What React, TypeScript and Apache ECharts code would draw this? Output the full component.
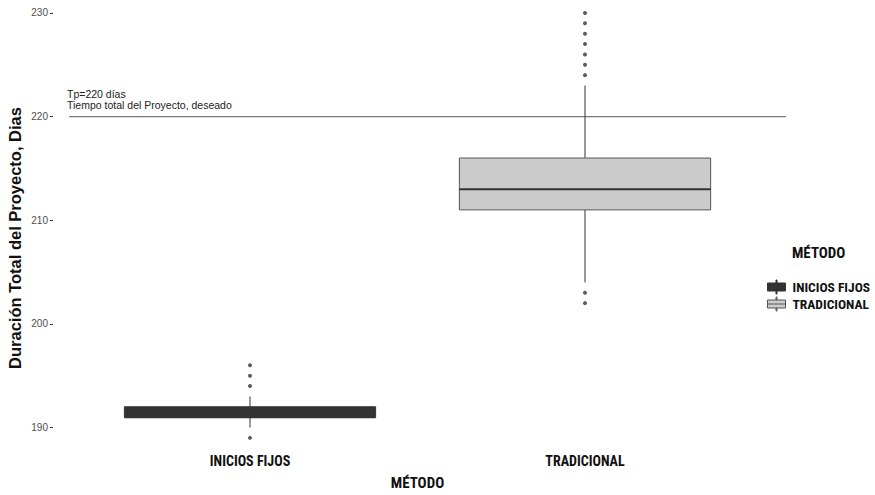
import React, { useEffect, useRef } from "react";
import * as echarts from "echarts";

const categories = ["INICIOS FIJOS", "TRADICIONAL"];
const whiskerLow = [190, 204];
const q1 = [191, 211];
const median = [191, 213];
const q3 = [192, 216];
const whiskerHigh = [193, 223];
const outliersFijos = [189, 194, 195, 196];
const outliersTradicional = [202, 203, 224, 225, 226, 227, 228, 229, 230];
const yTicks = [190, 200, 210, 220, 230];
const targetDays = 220;
const targetSpan = [0.46, 2.6];

const boxColors = [
  { fill: "#333333", border: "#333333" },
  { fill: "#cccccc", border: "#555555" },
];

const NARROW = "'Liberation Sans Narrow', 'Arial Narrow', 'Roboto Condensed', 'DejaVu Sans Condensed', sans-serif";
const SANS = "'Liberation Sans', Arial, sans-serif";

const legendIcon =
  "path://M0,3 L18,3 L18,11 L0,11 Z M8.5,0 L9.5,0 L9.5,3 L8.5,3 Z M8.5,11 L9.5,11 L9.5,14 L8.5,14 Z M0,7 L18,7";

function renderBox(params: any, api: any) {
  const x = api.value(0);
  const lo = api.coord([x, api.value(1)]);
  const b1 = api.coord([x, api.value(2)]);
  const md = api.coord([x, api.value(3)]);
  const b3 = api.coord([x, api.value(4)]);
  const hi = api.coord([x, api.value(5)]);
  const half = api.size([0.75, 0])[0] / 2;
  const idx = api.value(6);
  const c = boxColors[idx];
  return {
    type: "group",
    children: [
      { type: "line", shape: { x1: lo[0], y1: lo[1], x2: b1[0], y2: b1[1] }, style: { stroke: "#333333", lineWidth: 1 } },
      { type: "line", shape: { x1: hi[0], y1: hi[1], x2: b3[0], y2: b3[1] }, style: { stroke: "#333333", lineWidth: 1 } },
      {
        type: "rect",
        shape: { x: b1[0] - half, y: b3[1], width: half * 2, height: b1[1] - b3[1] },
        style: { fill: c.fill, stroke: c.border, lineWidth: 1 },
      },
      { type: "line", shape: { x1: md[0] - half, y1: md[1], x2: md[0] + half, y2: md[1] }, style: { stroke: "#333333", lineWidth: 2 } },
    ],
  };
}

export default function App() {
  const ref = useRef<HTMLDivElement>(null);
  useEffect(() => {
    if (!ref.current) return;
    const chart = echarts.init(ref.current, null, { renderer: "svg" });
    const boxSeries = categories.map((name, i) => ({
      name,
      type: "custom",
      xAxisIndex: 0,
      yAxisIndex: 0,
      renderItem: renderBox,
      itemStyle: { color: boxColors[i].fill, borderColor: boxColors[i].border },
      encode: { x: 0, y: [1, 2, 3, 4, 5] },
      data: [[i + 1, whiskerLow[i], q1[i], median[i], q3[i], whiskerHigh[i], i]],
      z: 3,
    }));
    chart.setOption({
      animation: false,
      backgroundColor: "#ffffff",
      grid: { left: 49, top: 0, width: 737, height: 459.8, containLabel: false },
      xAxis: {
        type: "value",
        min: 0.4,
        max: 2.6,
        axisLine: { show: false },
        axisTick: { show: false },
        splitLine: { show: false },
        axisLabel: {
          customValues: [1, 2],
          formatter: (v: number) => categories[Math.round(v) - 1] || "",
          color: "#111111",
          fontFamily: NARROW,
          fontWeight: "bold",
          fontSize: 14,
          margin: -2,
        },
        name: "MÉTODO",
        nameLocation: "middle",
        nameGap: 19,
        nameTextStyle: { color: "#111111", fontFamily: NARROW, fontWeight: "bold", fontSize: 15 },
      },
      yAxis: {
        type: "value",
        min: 187.25,
        max: 231.25,
        offset: -4,
        axisLine: { show: false },
        splitLine: { show: false },
        axisTick: { show: true, customValues: yTicks, length: 3, lineStyle: { color: "#333333" } },
        axisLabel: {
          customValues: yTicks,
          color: "#4d4d4d",
          fontFamily: SANS,
          fontSize: 10,
          margin: 5,
        },
      },
      legend: {
        data: categories.map((name, i) => ({
          name,
          icon: legendIcon,
          itemStyle: { color: boxColors[i].fill, borderColor: boxColors[i].border, borderWidth: 1 },
        })),
        orient: "vertical",
        left: 762,
        top: 274.5,
        itemWidth: 18,
        itemHeight: 14,
        itemGap: 2,
        selectedMode: false,
        textStyle: { color: "#111111", fontFamily: NARROW, fontWeight: "bold", fontSize: 13.5, padding: [0, 0, 0, 2] },
      },
      title: {
        text: "MÉTODO",
        left: 787,
        top: 240,
        textStyle: { color: "#111111", fontFamily: NARROW, fontWeight: "bold", fontSize: 15 },
      },
      graphic: [
        {
          type: "text",
          left: 67,
          top: 88,
          style: {
            text: "Tp=220 días\nTiempo total del Proyecto, deseado",
            fill: "#222222",
            font: `10.5px ${SANS}`,
            lineHeight: 11,
          },
        },
        {
          type: "text",
          x: 15,
          y: 238,
          rotation: Math.PI / 2,
          style: {
            text: "Duración Total del Proyecto, Dias",
            fill: "#111111",
            font: `bold 16.5px ${SANS}`,
            align: "center",
            verticalAlign: "middle",
          },
        },
      ],
      series: [
        {
          name: "Tp",
          type: "line",
          data: [
            [targetSpan[0], targetDays],
            [targetSpan[1], targetDays],
          ],
          symbol: "none",
          lineStyle: { color: "#7a7a7a", width: 1.3 },
          clip: false,
          z: 2,
        },
        ...boxSeries,
        {
          name: "outliers1",
          type: "scatter",
          data: outliersFijos.map((v) => [1, v]),
          symbolSize: 4,
          itemStyle: { color: "#333333" },
          z: 4,
        },
        {
          name: "outliers2",
          type: "scatter",
          data: outliersTradicional.map((v) => [2, v]),
          symbolSize: 4,
          itemStyle: { color: "#333333" },
          z: 4,
        },
      ],
    });
    return () => chart.dispose();
  }, []);
  return <div ref={ref} style={{ position: "absolute", left: 0, top: 0, width: 875, height: 495 }} />;
}
